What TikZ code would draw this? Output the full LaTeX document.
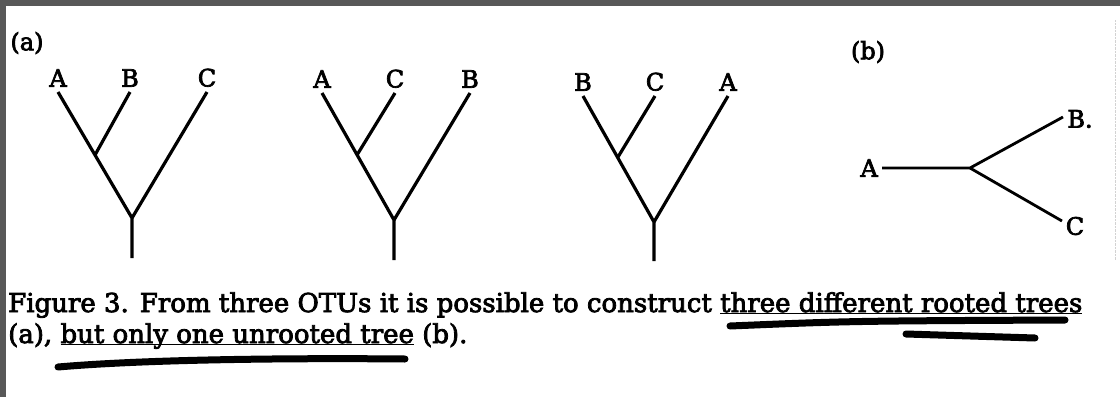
\documentclass[tikz,border=0pt]{standalone}
\usepackage{fontspec}
\setmainfont[FakeBold=3]{DejaVu Serif}
\usetikzlibrary{positioning}

\definecolor{framegray}{RGB}{88,88,88}

% duenne Unterstreichung auf der Grundlinie
\newcommand{\penul}[1]{\setbox0\hbox{#1}\rlap{\rule[-2pt]{\wd0}{1pt}}\box0\relax}

\begin{document}
\begin{tikzpicture}[x=1pt,y=-1pt,
  branch/.style={line width=3.2pt},
  otu/.style={inner sep=1pt,font=\fontsize{24}{24}\selectfont},
  marker/.style={line width=7pt,line cap=round},
  captext/.style={anchor=base west,inner sep=0pt,font=\fontsize{26}{30}\selectfont}]

\useasboundingbox (0,0) rectangle (1120,397);
\fill[white] (0,0) rectangle (1120,397);

% Rahmen oben und links
\fill[framegray] (0,0) rectangle (1120,6);
\fill[framegray] (0,0) rectangle (6,397);

% Scankante rechts
\draw[gray!35,densely dotted] (1115,20) -- (1115,260);

% (a)
\node[otu] (parta) at (27,43) {(a)};

% Baum 1: A B C
\coordinate (a1) at (58,92);
\coordinate (b1) at (130,92);
\coordinate (c1) at (207,92);
\coordinate (i1) at (95,155);
\coordinate (r1) at (132,218);
\coordinate (e1) at (132,258);
\node[otu,above=4pt of a1] (A1) {A};
\node[otu,above=4pt of b1] (B1) {B};
\node[otu,above=4pt of c1] (C1) {C};
\draw[branch] (a1) -- (r1) -- (e1);
\draw[branch] (b1) -- (i1);
\draw[branch] (c1) -- (r1);

% Baum 2: A C B
\coordinate (a2) at (322,93);
\coordinate (c2) at (395,93);
\coordinate (b2) at (470,93);
\coordinate (i2) at (357,155);
\coordinate (r2) at (394,220);
\coordinate (e2) at (394,260);
\node[otu,above=4pt of a2] (A2) {A};
\node[otu,above=4pt of c2] (C2) {C};
\node[otu,above=4pt of b2] (B2) {B};
\draw[branch] (a2) -- (r2) -- (e2);
\draw[branch] (c2) -- (i2);
\draw[branch] (b2) -- (r2);

% Baum 3: B C A
\coordinate (b3) at (583,96);
\coordinate (c3) at (655,96);
\coordinate (a3) at (728,96);
\coordinate (i3) at (618,157);
\coordinate (r3) at (654,222);
\coordinate (e3) at (654,261);
\node[otu,above=4pt of b3] (B3) {B};
\node[otu,above=4pt of c3] (C3) {C};
\node[otu,above=4pt of a3] (A3) {A};
\draw[branch] (b3) -- (r3) -- (e3);
\draw[branch] (c3) -- (i3);
\draw[branch] (a3) -- (r3);

% (b) ungewurzelter Baum
\node[otu] (partb) at (868,52) {(b)};
\coordinate (m) at (970,168);
\coordinate (ua) at (882,168);
\coordinate (ub) at (1063,117);
\coordinate (uc) at (1062,221);
\node[otu,left=3pt of ua] (UA) {A};
\node[otu] (UB) at (1080,119) {B.};
\node[otu] (UC) at (1075,226) {C};
\draw[branch,line width=2.8pt] (ua) -- (m) -- (ub);
\draw[branch,line width=2.8pt] (m) -- (uc);

% Bildunterschrift
\node[captext] (cap1) at (8,312) {Figure 3. From three OTUs it is possible to construct \penul{three different rooted trees}};
\node[captext] (cap2) at (8,343) {(a), \penul{but only one unrooted tree} (b).};

% Markerstriche
\draw[marker] (58,367) .. controls (150,359) and (300,358) .. (405,359);
\draw[marker] (730,326) .. controls (850,321) .. (1065,320);
\draw[marker] (906,334) -- (1035,338);

\end{tikzpicture}
\end{document}
